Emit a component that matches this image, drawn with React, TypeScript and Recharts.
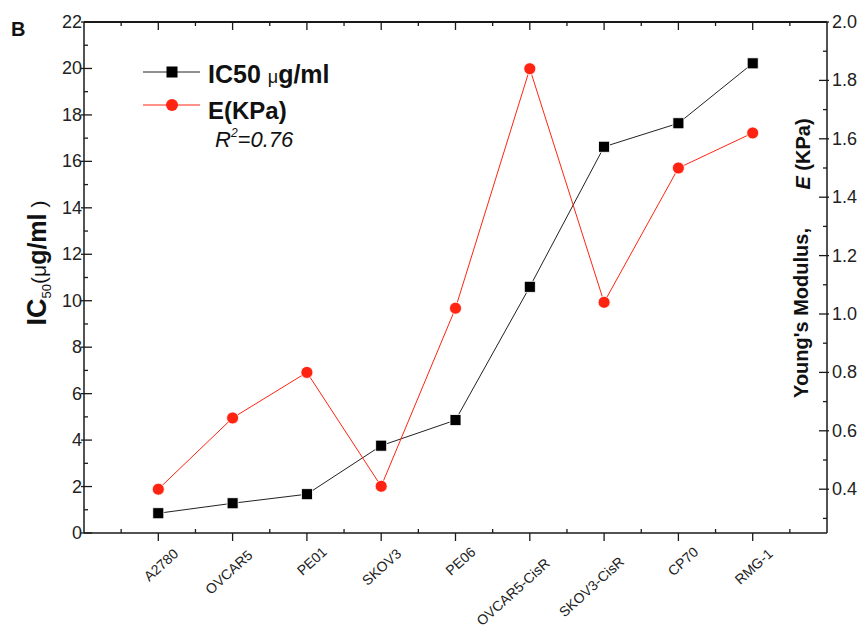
import React from 'react';
import { LineChart, Line, XAxis, YAxis } from 'recharts';

const categories = ['A2780', 'OVCAR5', 'PE01', 'SKOV3', 'PE06', 'OVCAR5-CisR', 'SKOV3-CisR', 'CP70', 'RMG-1'];
const ic50Values = [0.85, 1.28, 1.67, 3.76, 4.86, 10.6, 16.63, 17.64, 20.22];
const eValues = [0.40, 0.644, 0.80, 0.41, 1.02, 1.84, 1.04, 1.50, 1.62];
const xTicks = [0.5, 1, 1.5, 2, 2.5, 3, 3.5, 4, 4.5, 5, 5.5, 6, 6.5, 7, 7.5, 8, 8.5, 9, 9.5];
const leftTicks = [0, 1, 2, 3, 4, 5, 6, 7, 8, 9, 10, 11, 12, 13, 14, 15, 16, 17, 18, 19, 20, 21, 22];
const rightTicks = [0.3, 0.4, 0.5, 0.6, 0.7, 0.8, 0.9, 1.0, 1.1, 1.2, 1.3, 1.4, 1.5, 1.6, 1.7, 1.8, 1.9, 2.0];
const xDomain = [0, 10];

const data = categories.map((c, i) => ({ pos: i + 1, name: c, ic50: ic50Values[i], e: eValues[i] }));

// chart layout
const W = 857;
const H = 631;
const PLOT_LEFT = 84;
const PLOT_RIGHT = 827;
const PLOT_TOP = 22;
const X_AXIS_H = 98;

const FONT = "'Liberation Sans', Arial, Helvetica, sans-serif";
const AX = '#1a1a1a';
const RED = '#ff2412';

const topTickX = (t: number) => PLOT_LEFT + ((t - xDomain[0]) / (xDomain[1] - xDomain[0])) * (PLOT_RIGHT - PLOT_LEFT);

const BottomTick = (props: any) => {
  const { x, y, payload } = props;
  const v = payload.value;
  const major = Number.isInteger(v);
  if (!major) {
    return <line x1={x} x2={x} y1={y} y2={y - 4} stroke={AX} strokeWidth={1.3} />;
  }
  const label = categories[v - 1];
  const ax = x + 21;
  const ay = y + 14 + 1.6 * label.length;
  return (
    <g>
      <line x1={x} x2={x} y1={y} y2={y + 8} stroke={AX} strokeWidth={1.3} />
      <text x={ax} y={ay} textAnchor="end" transform={`rotate(-42 ${ax} ${ay})`} fontSize={14} fontFamily={FONT} fill="#222">
        {label}
      </text>
    </g>
  );
};

const LeftTick = (props: any) => {
  const { x, y, payload } = props;
  const v = payload.value;
  const major = v % 2 === 0;
  if (!major) return <line x1={x} x2={x + 4} y1={y} y2={y} stroke={AX} strokeWidth={1.3} />;
  return (
    <g>
      <line x1={x - 3} x2={x + 8} y1={y} y2={y} stroke={AX} strokeWidth={1.3} />
      <text x={x - 2} y={y + 6} textAnchor="end" fontSize={18} fontFamily={FONT} fill="#222">
        {v}
      </text>
    </g>
  );
};

const RightTick = (props: any) => {
  const { x, y, payload } = props;
  const v = payload.value;
  const major = Math.round(v * 10) % 2 === 0;
  if (!major) return <line x1={x - 4} x2={x} y1={y} y2={y} stroke={AX} strokeWidth={1.3} />;
  return (
    <g>
      <line x1={x - 8} x2={x + 2} y1={y} y2={y} stroke={AX} strokeWidth={1.3} />
      <text x={x + 5} y={y + 6} textAnchor="start" fontSize={18} fontFamily={FONT} fill="#222">
        {v.toFixed(1)}
      </text>
    </g>
  );
};

const SquareDot = (props: any) => {
  const { cx, cy, index } = props;
  return <rect key={`sq-${index}`} x={cx - 5.5} y={cy - 5.5} width={11} height={11} fill="#000" stroke="#fff" strokeWidth={0.8} />;
};

export default function App() {
  return (
    <div style={{ position: 'relative', width: W, height: H, background: '#fff' }}>
      <style>{'body{margin:0;overflow:hidden;background:#fff}'}</style>
      <LineChart width={W} height={H} data={data} margin={{ top: PLOT_TOP, right: 0, bottom: 0, left: 0 }}>
        <XAxis
          xAxisId="bottom"
          orientation="bottom"
          dataKey="pos"
          type="number"
          domain={xDomain}
          ticks={xTicks}
          interval={0}
          height={X_AXIS_H}
          tickSize={0}
          tickMargin={0}
          tickLine={false}
          axisLine={{ stroke: AX, strokeWidth: 1.5 }}
          tick={<BottomTick />}
        />
        <YAxis
          yAxisId="left"
          orientation="left"
          type="number"
          domain={[0, 22]}
          ticks={leftTicks}
          interval={0}
          width={PLOT_LEFT}
          tickSize={0}
          tickMargin={0}
          tickLine={false}
          axisLine={{ stroke: AX, strokeWidth: 1.5 }}
          tick={<LeftTick />}
        />
        <YAxis
          yAxisId="right"
          orientation="right"
          type="number"
          domain={[0.25, 2.0]}
          allowDataOverflow
          ticks={rightTicks}
          interval={0}
          width={W - PLOT_RIGHT}
          tickSize={0}
          tickMargin={0}
          tickLine={false}
          axisLine={{ stroke: AX, strokeWidth: 1.5 }}
          tick={<RightTick />}
        />
        <Line
          xAxisId="bottom"
          yAxisId="left"
          dataKey="ic50"
          stroke="#222"
          strokeWidth={1}
          dot={<SquareDot />}
          isAnimationActive={false}
        />
        <Line
          xAxisId="bottom"
          yAxisId="right"
          dataKey="e"
          stroke={RED}
          strokeWidth={1}
          dot={{ r: 6, fill: RED, stroke: '#fff', strokeWidth: 0.8 }}
          isAnimationActive={false}
        />
      </LineChart>
      <div
        style={{
          position: 'absolute',
          left: PLOT_LEFT,
          top: PLOT_TOP - 1,
          width: PLOT_RIGHT - PLOT_LEFT,
          height: 0,
          borderTop: `2px solid ${AX}`,
          pointerEvents: 'none',
        }}
      />
      <svg width={W} height={H} style={{ position: 'absolute', left: 0, top: 0, pointerEvents: 'none' }}>
        {/* top frame with inward ticks */}
        <rect x={PLOT_LEFT} y={PLOT_TOP - 0.75} width={PLOT_RIGHT - PLOT_LEFT} height={1.5} fill={AX} />
        {xTicks.map((t) => (
          <rect
            key={`tt-${t}`}
            x={topTickX(t) - 0.65}
            y={PLOT_TOP}
            width={1.3}
            height={Number.isInteger(t) ? 8 : 4}
            fill={AX}
          />
        ))}
        <text x={11} y={36} fontSize={20} fontWeight="bold" fontFamily={FONT} fill="#111">B</text>
        {/* legend */}
        <line x1={143} x2={200} y1={72} y2={72} stroke="#222" strokeWidth={1} />
        <rect x={166.5} y={66.5} width={11} height={11} fill="#000" />
        <text x={208} y={83} fontFamily={FONT} fill="#111">
          <tspan fontSize={25} fontWeight="bold">IC50 </tspan>
          <tspan fontSize={18}>μ</tspan>
          <tspan fontSize={25} fontWeight="bold">g/ml</tspan>
        </text>
        <line x1={143} x2={200} y1={105} y2={105} stroke={RED} strokeWidth={1} />
        <circle cx={172} cy={105} r={6} fill={RED} />
        <text x={208} y={119} fontFamily={FONT} fill="#111" fontSize={24} fontWeight="bold">E(KPa)</text>
        <text x={215} y={147} fontFamily={FONT} fill="#111" fontSize={22} fontStyle="italic">
          <tspan>R</tspan>
          <tspan fontSize={12} dy={-10}>2</tspan>
          <tspan dy={10}>=0.76</tspan>
        </text>
        {/* left axis title */}
        <text x={46} y={263} transform="rotate(-90 46 263)" textAnchor="middle" fontFamily={FONT} fill="#111">
          <tspan fontSize={27} fontWeight="bold">IC</tspan>
          <tspan fontSize={13} dy={5}>50</tspan>
          <tspan fontSize={21} dy={-5}>(μ</tspan>
          <tspan fontSize={25} fontWeight="bold">g/ml</tspan>
          <tspan fontSize={21}> )</tspan>
        </text>
        {/* right axis title */}
        <text x={808} y={313} transform="rotate(-90 808 313)" textAnchor="middle" fontFamily={FONT} fill="#111" fontSize={20} fontWeight="bold">
          Young's Modulus,
        </text>
        <text x={810} y={154} transform="rotate(-90 810 154)" textAnchor="middle" fontFamily={FONT} fill="#111" fontSize={20} fontWeight="bold">
          <tspan fontStyle="italic">E</tspan>
          <tspan> (KPa)</tspan>
        </text>
      </svg>
    </div>
  );
}
